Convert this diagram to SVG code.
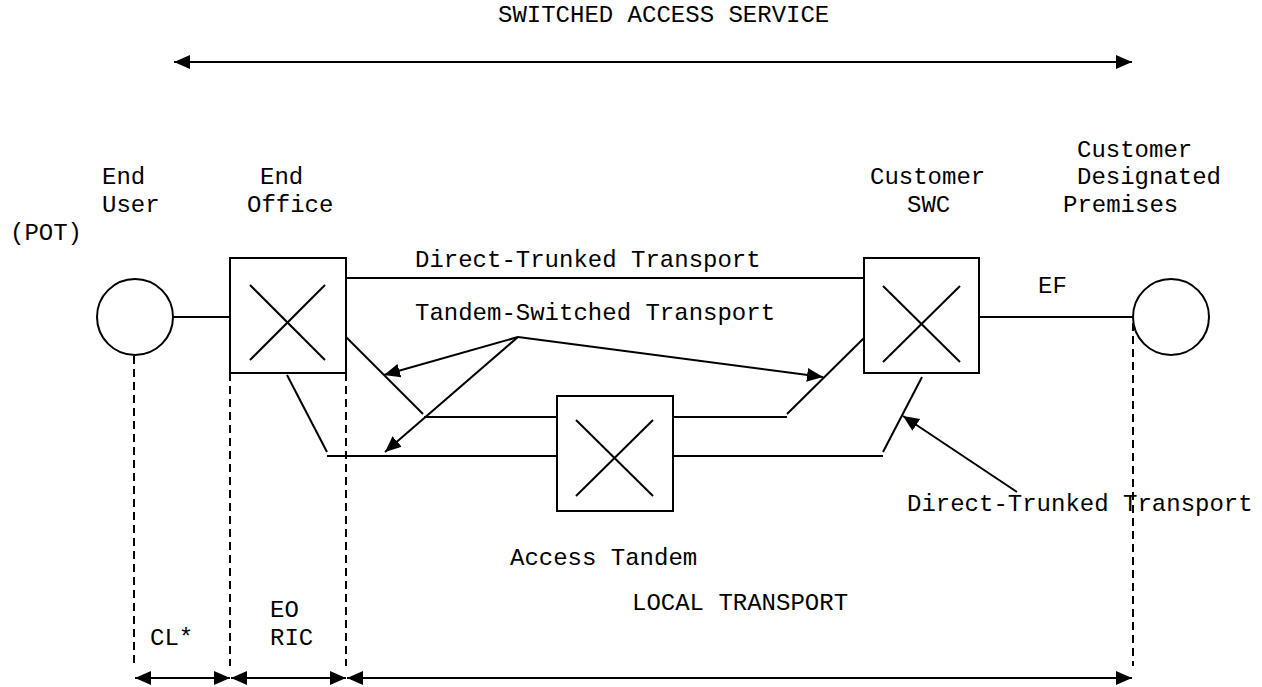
<svg xmlns="http://www.w3.org/2000/svg" width="1262" height="687" viewBox="0 0 1262 687">
  <defs>
    <marker id="arrow" markerUnits="userSpaceOnUse" markerWidth="18" markerHeight="16" refX="16" refY="8" orient="auto-start-reverse">
      <path d="M0,1 L16,8 L0,15 z" fill="#000"/>
    </marker>
    <style>
      text { font-family: "Liberation Mono", "Courier New", monospace; font-size: 24px; fill: #000; }
      .ln { stroke: #000; stroke-width: 2; fill: none; }
      .box { stroke: #000; stroke-width: 2; fill: #fff; }
      .dash { stroke: #000; stroke-width: 2; fill: none; stroke-dasharray: 8 5; }
      .arr { stroke: #000; stroke-width: 2; fill: none; marker-end: url(#arrow); }
      .dbl { stroke: #000; stroke-width: 2; fill: none; marker-start: url(#arrow); marker-end: url(#arrow); }
    </style>
  </defs>
  <rect width="1262" height="687" fill="#fff"/>

  <!-- service span -->
  <text x="498" y="22">SWITCHED ACCESS SERVICE</text>
  <line class="dbl" x1="174" y1="62" x2="1132" y2="62"/>

  <!-- trunks and links -->
  <g id="connectors">
    <line class="ln" x1="173" y1="317" x2="230" y2="317"/>
    <line class="ln" x1="346" y1="278" x2="864" y2="278"/>
    <line class="ln" x1="979" y1="317" x2="1133" y2="317"/>
    <!-- upper tandem route -->
    <line class="ln" x1="346" y1="337" x2="423" y2="414"/>
    <line class="ln" x1="424" y1="417" x2="557" y2="417"/>
    <polyline class="ln" points="673,417 787,417"/>
    <line class="ln" x1="787" y1="414" x2="864" y2="338"/>
    <!-- lower tandem route -->
    <line class="ln" x1="287" y1="375" x2="327" y2="452"/>
    <line class="ln" x1="327" y1="456" x2="557" y2="456"/>
    <line class="ln" x1="673" y1="456" x2="883" y2="456"/>
    <line class="ln" x1="883" y1="452" x2="922" y2="377"/>
    <!-- label pointers -->
    <line class="arr" x1="518" y1="337" x2="384" y2="375"/>
    <line class="arr" x1="518" y1="337" x2="385" y2="452"/>
    <line class="arr" x1="518" y1="337" x2="823" y2="377"/>
    <line class="arr" x1="1017" y1="492" x2="903" y2="416"/>
  </g>

  <g id="end-user">
    <circle class="box" cx="135" cy="317" r="38"/>
    <text x="102" y="184">End</text>
    <text x="102" y="212">User</text>
    <text x="10" y="240">(POT)</text>
  </g>

  <g id="end-office">
    <rect class="box" x="230" y="258" width="116" height="115"/>
    <line class="ln" x1="250" y1="285" x2="325" y2="360"/>
    <line class="ln" x1="325" y1="285" x2="250" y2="360"/>
    <text x="260" y="184">End</text>
    <text x="247" y="212">Office</text>
  </g>

  <g id="access-tandem">
    <rect class="box" x="557" y="396" width="116" height="115"/>
    <line class="ln" x1="576" y1="420" x2="653" y2="496"/>
    <line class="ln" x1="653" y1="420" x2="576" y2="496"/>
    <text x="510" y="565">Access Tandem</text>
  </g>

  <g id="customer-swc">
    <rect class="box" x="864" y="258" width="115" height="115"/>
    <line class="ln" x1="883" y1="286" x2="960" y2="362"/>
    <line class="ln" x1="960" y1="286" x2="883" y2="362"/>
    <text x="870" y="184">Customer</text>
    <text x="907" y="212">SWC</text>
  </g>

  <g id="customer-premises">
    <circle class="box" cx="1171" cy="317" r="38"/>
    <text x="1077" y="157">Customer</text>
    <text x="1077" y="184">Designated</text>
    <text x="1063" y="212">Premises</text>
  </g>

  <g id="labels">
    <text x="415" y="267">Direct-Trunked Transport</text>
    <text x="415" y="320">Tandem-Switched Transport</text>
    <text x="1038" y="293">EF</text>
    <text x="907" y="511">Direct-Trunked Transport</text>
  </g>

  <!-- rate element spans -->
  <g id="spans">
    <line class="dash" x1="134" y1="356" x2="134" y2="666"/>
    <line class="dash" x1="230" y1="373" x2="230" y2="666"/>
    <line class="dash" x1="346" y1="373" x2="346" y2="666"/>
    <line class="dash" x1="1133" y1="323" x2="1133" y2="666"/>
    <line class="dbl" x1="135" y1="678" x2="230" y2="678"/>
    <line class="dbl" x1="231" y1="678" x2="346" y2="678"/>
    <line class="dbl" x1="347" y1="678" x2="1132" y2="678"/>
    <text x="150" y="645">CL*</text>
    <text x="270" y="617">EO</text>
    <text x="270" y="645">RIC</text>
    <text x="632" y="610">LOCAL TRANSPORT</text>
  </g>
</svg>
